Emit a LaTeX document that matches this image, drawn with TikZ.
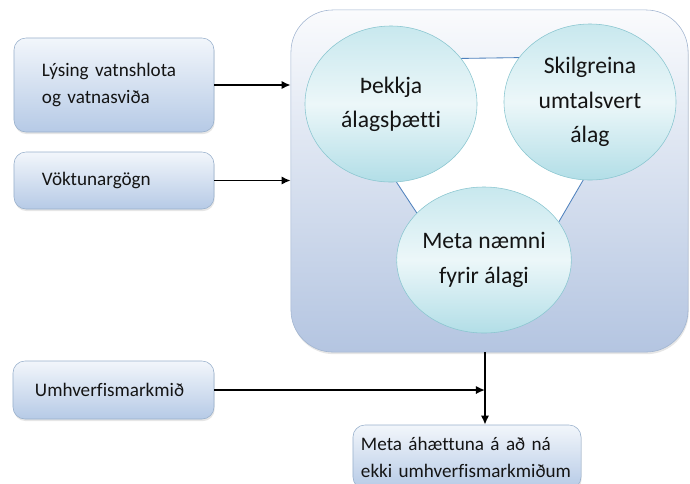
\documentclass[tikz,border=0pt]{standalone}
\usepackage{fontspec}
\setmainfont{Carlito}[Ligatures=NoCommon]
\usetikzlibrary{arrows.meta}
\usetikzlibrary{shapes.geometric}
\usetikzlibrary{shadows}
\usetikzlibrary{backgrounds}

\definecolor{boxtop}{RGB}{242,246,251}
\definecolor{boxbot}{RGB}{182,202,230}
\definecolor{boxline}{RGB}{152,176,204}
\definecolor{frametop}{RGB}{250,251,253}
\definecolor{framebot}{RGB}{180,197,225}
\definecolor{frameline}{RGB}{160,180,208}
\definecolor{balltop}{RGB}{200,232,238}
\definecolor{ballmid}{RGB}{236,247,249}
\definecolor{ballbot}{RGB}{178,222,231}
\definecolor{ballline}{RGB}{138,198,208}
\definecolor{linkline}{RGB}{79,129,189}
\definecolor{ink}{RGB}{20,20,20}

\tikzset{
  inbox/.style={draw=boxline, rounded corners=0.3cm, top color=boxtop,
    bottom color=boxbot, align=left, text=ink,
    font=\fontsize{13.6}{19.2}\selectfont,
    drop shadow={opacity=0.2, shadow xshift=0.5pt, shadow yshift=-1.5pt}},
  ball/.style={ellipse, draw=ballline, top color=balltop, bottom color=ballbot,
    middle color=ballmid, minimum width=4.3cm, minimum height=3.9cm,
    inner sep=0pt, align=center, text=ink,
    font=\fontsize{16.8}{24.4}\selectfont},
  link/.style={draw=linkline, line width=0.6pt},
}

\begin{document}
\begin{tikzpicture}[x=0.025cm, y=-0.025cm, >={Latex[length=6.5pt,width=6pt]}]
  \useasboundingbox (0,0) rectangle (690,483);
  \node (lys) [inbox, inner xsep=0.7cm, text width=3.6cm, minimum height=2.35cm]
    at (114,85) {Lýsing vatnshlota\\og vatnasviða};
  \node (vok) [inbox, inner xsep=0.7cm, text width=3.6cm, minimum height=1.425cm]
    at (114,180.5) {Vöktunargögn};
  \node (umh) [inbox, inner xsep=0.55cm, text width=3.925cm, minimum height=1.45cm]
    at (113.5,390) {Umhverfismarkmið};
  \node (meta) [inbox, inner xsep=0.2cm, text width=5.3cm, minimum height=1.6cm]
    at (467,457) {Meta áhættuna á að ná\\ekki umhverfismarkmiðum};

  \node (thek) [ball] at (391,104) {Þekkja\\álagsþætti};
  \node (skil) [ball] at (590,102) {Skilgreina\\umtalsvert\\álag};
  \node (bot) [ball, minimum height=3.65cm] at (484,260) {Meta næmni\\fyrir álagi};

  \begin{scope}[on background layer]
    \node (frame) [draw=frameline, rounded corners=1.05cm, top color=frametop,
      bottom color=framebot, minimum width=9.925cm, minimum height=8.55cm,
      drop shadow={opacity=0.2, shadow xshift=0.5pt, shadow yshift=-1.5pt}]
      at (489.5,181) {};
    \fill[white] (thek.33) -- (skil.148) -- (skil.-95) -- (bot.27)
      -- (bot.145) -- (thek.-86) -- cycle;
    \draw[link] (thek.33) -- (skil.148);
    \draw[link] (thek.-86) -- (bot.145);
    \draw[link] (skil.-95) -- (bot.27);
  \end{scope}

  \coordinate (join) at (485,390);
  \draw[->, line width=1.3pt] (lys.east) -- (lys.east -| frame.west);
  \draw[->, line width=1.3pt] (vok.east) -- (vok.east -| frame.west);
  \draw[->, line width=1.3pt] (umh.east) -- (umh.east -| join);
  \draw[->, line width=1.3pt] (frame.south -| join) -- (join |- meta.north);
\end{tikzpicture}
\end{document}
